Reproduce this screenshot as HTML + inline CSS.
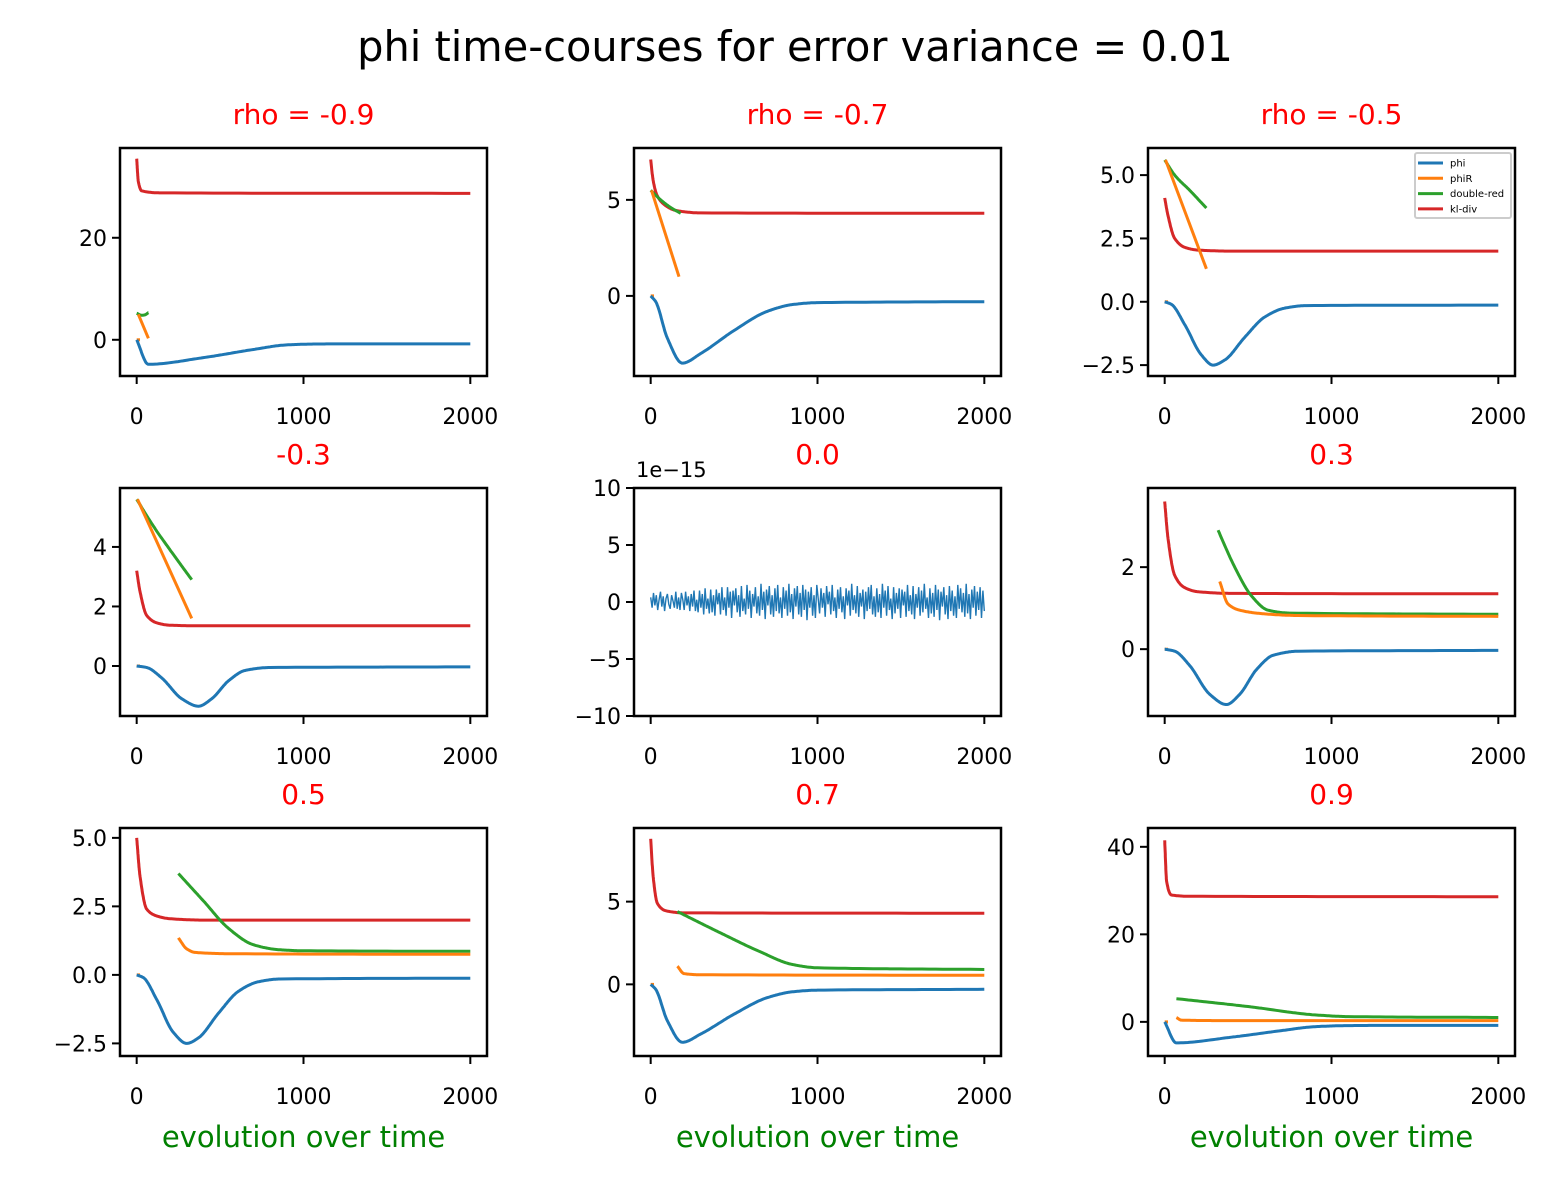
<!DOCTYPE html>
<html><head><meta charset="utf-8"><style>
body{margin:0;background:#fff}
svg text{font-family:"DejaVu Sans","Liberation Sans",sans-serif}
</style></head><body>
<svg id="fig" width="1560" height="1183" viewBox="0 0 1560 1183" xmlns="http://www.w3.org/2000/svg">
<rect width="1560" height="1183" fill="#fff"/>
<text x="795" y="61" font-size="41.5" text-anchor="middle">phi time-courses for error variance = 0.01</text>
</svg>
<script>
// ---- data (time, value) pairs ----
const panelTitles = ["rho = -0.9","rho = -0.7","rho = -0.5","-0.3","0.0","0.3","0.5","0.7","0.9"];
const yLimits = [[-7.1,37.6],[-4.17,7.7],[-2.93,6.07],[-1.68,5.98],[-10,10],[-1.63,3.93],[-2.96,5.36],[-4.33,9.45],[-7.8,44.3]];
const yTicks = [[0,20],[0,5],[-2.5,0,2.5,5],[0,2,4],[-10,-5,0,5,10],[0,2],[-2.5,0,2.5,5],[0,5],[0,20,40]];
const yTickLabels = [["0","20"],["0","5"],["\u22122.5","0.0","2.5","5.0"],["0","2","4"],["\u221210","\u22125","0","5","10"],["0","2"],["\u22122.5","0.0","2.5","5.0"],["0","5"],["0","20","40"]];
const xTicks = [0,1000,2000];
const xTickLabels = ["0","1000","2000"];
const phiSeries = [
 [[0,0],[70,-4.8],[400,-3.5],[700,-1.9],[900,-1.0],[1100,-0.82],[1400,-0.8],[2000,-0.8]],
 [[0,0],[30,-0.3],[100,-2.2],[190,-3.5],[300,-3.0],[500,-1.8],[700,-0.8],[850,-0.45],[1000,-0.35],[2000,-0.3]],
 [[0,0],[40,-0.1],[120,-0.9],[220,-2.1],[290,-2.5],[360,-2.3],[480,-1.4],[600,-0.6],[720,-0.25],[850,-0.15],[2000,-0.13]],
 [[0,0],[60,-0.05],[150,-0.4],[270,-1.1],[370,-1.35],[450,-1.1],[550,-0.5],[650,-0.15],[800,-0.05],[2000,-0.03]],
 null,
 [[0,0],[60,-0.05],[150,-0.4],[270,-1.1],[370,-1.35],[450,-1.1],[550,-0.5],[650,-0.15],[800,-0.05],[2000,-0.03]],
 [[0,0],[40,-0.1],[120,-0.9],[220,-2.1],[300,-2.5],[370,-2.3],[490,-1.4],[610,-0.6],[730,-0.25],[860,-0.15],[2000,-0.12]],
 [[0,0],[30,-0.3],[100,-2.2],[190,-3.5],[300,-3.0],[500,-1.8],[700,-0.8],[850,-0.45],[1000,-0.35],[2000,-0.3]],
 [[0,0],[70,-4.8],[400,-3.5],[700,-2.0],[900,-1.1],[1100,-0.85],[1400,-0.8],[2000,-0.8]]
];
const phiRSeries = [
 [[10,5],[70,0.3]],
 [[5,5.5],[170,1.0]],
 [[5,5.6],[250,1.3]],
 [[5,5.6],[330,1.6]],
 null,
 [[330,1.65],[380,1.1],[450,0.95],[600,0.86],[800,0.82],[2000,0.8]],
 [[250,1.35],[300,0.95],[350,0.82],[600,0.77],[2000,0.75]],
 [[160,1.1],[200,0.65],[300,0.58],[2000,0.55]],
 [[70,1.0],[100,0.4],[300,0.3],[2000,0.3]]
];
const doubleRedSeries = [
 [[0,5.2],[30,4.8],[50,4.9],[70,5.3]],
 [[0,5.5],[60,5.0],[120,4.6],[180,4.3]],
 [[0,5.6],[60,5.0],[150,4.4],[250,3.7]],
 [[0,5.6],[100,4.7],[200,3.9],[330,2.9]],
 null,
 [[320,2.9],[420,2.0],[520,1.3],[620,0.95],[750,0.88],[2000,0.85]],
 [[250,3.7],[400,2.7],[550,1.7],[700,1.1],[850,0.92],[1000,0.88],[2000,0.86]],
 [[160,4.4],[400,3.2],[650,2.0],[850,1.2],[1000,1.0],[2000,0.9]],
 [[70,5.3],[500,3.5],[900,1.6],[1100,1.2],[2000,1.0]]
];
const klDivSeries = [
 [[0,35.5],[10,31],[30,29.2],[150,28.8],[2000,28.7]],
 [[0,7.1],[15,6.0],[40,5.2],[90,4.7],[150,4.45],[300,4.32],[2000,4.3]],
 [[0,4.1],[20,3.4],[60,2.5],[120,2.15],[200,2.04],[400,2.0],[2000,2.0]],
 [[0,3.2],[20,2.5],[60,1.7],[120,1.45],[200,1.37],[400,1.35],[2000,1.35]],
 null,
 [[0,3.6],[20,2.7],[60,1.8],[120,1.5],[200,1.4],[400,1.36],[2000,1.35]],
 [[0,5.0],[20,3.6],[60,2.4],[120,2.15],[200,2.05],[400,2.0],[2000,2.0]],
 [[0,8.8],[15,6.5],[40,4.9],[90,4.45],[200,4.32],[2000,4.3]],
 [[0,41.5],[12,32],[40,29],[150,28.7],[2000,28.6]]
];
// noise values (x1e-15), evenly spaced from t=0 to t=2000
const noiseValues = [0.4,-0.5,0.8,-0.3,0.6,-0.7,0.2,0.9,-0.4,0.5,-0.8,0.3,0.7,-0.2,-0.6,0.6,0.1,-0.5,0.9,-0.6,0.4,-0.7,0.8,0.2,-0.7,0.9,-0.3,0.5,-0.8,0.7,
-0.4,1.0,-0.8,0.2,-0.9,1.0,-0.5,0.7,-1.1,1.2,-0.6,0.3,-1.0,1.1,-0.9,0.6,-1.2,1.1,-0.2,0.8,-1.1,1.3,-0.7,0.4,-1.2,1.3,-0.5,0.9,-1.4,1.0,
-0.3,1.2,-0.9,0.6,-1.3,1.4,-0.8,0.3,-1.1,1.5,-0.6,1.0,-1.4,0.7,-0.4,1.3,-1.0,0.5,-1.2,1.6,-0.7,0.9,-1.5,1.1,-0.3,1.4,-1.1,0.6,-1.3,1.2,
-0.8,1.5,-1.0,0.4,-1.4,1.3,-0.6,1.0,-1.2,1.6,-0.9,0.7,-1.5,1.2,-0.4,1.4,-1.1,0.8,-1.3,1.5,-0.7,1.1,-1.6,0.9,-0.5,1.3,-1.2,0.6,-1.4,1.5,
0.3,-1.0,1.2,-0.5,0.8,-1.3,1.4,-0.2,0.9,-1.1,1.5,-0.8,0.4,-1.4,1.1,-0.6,1.3,-0.9,0.5,-1.5,1.2,-0.3,1.0,-1.2,1.6,-0.7,0.6,-1.0,1.4,-1.3,
0.8,-0.4,1.1,-1.5,0.9,-0.8,1.3,-0.6,1.5,-1.1,0.5,-1.3,1.2,-0.9,0.7,-1.4,1.6,-0.5,1.0,-1.2,1.4,-0.7,0.3,-1.5,1.3,-1.0,0.8,-0.6,1.2,-1.4,
1.1,-0.3,0.9,-1.3,1.5,-0.8,0.6,-1.1,1.4,-1.5,0.7,-0.5,1.3,-1.2,1.0,-0.9,1.6,-0.6,0.4,-1.4,1.2,-1.0,0.8,-1.3,1.5,-0.7,1.1,-1.6,0.9,-0.4,
1.3,-1.1,0.6,-1.5,1.4,-0.8,1.0,-1.2,0.5,-1.4,1.5,-0.6,1.2,-0.9,0.8,-1.3,1.6,-1.0,0.7,-1.5,1.1,-0.5,1.4,-1.2,0.9,-0.7,1.3,-1.4,1.0,-0.8];

const NS="http://www.w3.org/2000/svg";
const svg=document.getElementById('fig');
const colors={phi:"#1f77b4",phiR:"#ff7f0e",dr:"#2ca02c",kl:"#d62728"};
function mk(tag,attrs,parent){const e=document.createElementNS(NS,tag);for(const k in attrs)e.setAttribute(k,attrs[k]);(parent||svg).appendChild(e);return e;}
const colX=[120,634,1148], rowY=[148,488,828], W=367, H=228;
// monotone cubic (Fritsch-Carlson) interpolation, evaluated in data space
function monotoneSample(data){
  const n=data.length,xs=data.map(d=>d[0]),ys=data.map(d=>d[1]);
  if(n<3)return data.slice();
  const dx=[],m=[];for(let i=0;i<n-1;i++){dx.push(xs[i+1]-xs[i]);m.push((ys[i+1]-ys[i])/dx[i]);}
  const t=[m[0]];
  for(let i=1;i<n-1;i++){ if(m[i-1]*m[i]<=0)t.push(0); else { const w1=2*dx[i]+dx[i-1],w2=dx[i]+2*dx[i-1]; t.push((w1+w2)/(w1/m[i-1]+w2/m[i])); } }
  t.push(m[n-2]);
  const out=[];
  for(let i=0;i<n-1;i++){
    const N=24;
    for(let k=0;k<N;k++){
      const s=k/N,h=dx[i];
      const h00=2*s*s*s-3*s*s+1,h10=s*s*s-2*s*s+s,h01=-2*s*s*s+3*s*s,h11=s*s*s-s*s;
      out.push([xs[i]+s*h, h00*ys[i]+h10*h*t[i]+h01*ys[i+1]+h11*h*t[i+1]]);
    }
  }
  out.push(data[n-1]);
  return out;
}
for(let i=0;i<9;i++){
  const r=Math.floor(i/3),c=i%3,x0=colX[c],y0=rowY[r];
  const [ymin,ymax]=yLimits[i];
  const sx=t=>x0+(t+100)/2200*W;
  const sy=v=>y0+H-(v-ymin)/(ymax-ymin)*H;
  const g=mk('g',{});
  
  
  const title=mk('text',{x:x0+W/2,y:y0-24,'font-size':28,'text-anchor':'middle',fill:'#ff0000'},g);
  title.textContent=panelTitles[i];
  
  
  const clip=mk('clipPath',{id:'c'+i},g);mk('rect',{x:x0,y:y0,width:W,height:H},clip);
  const plot=mk('g',{'clip-path':'url(#c'+i+')'},g);
  function line(data,col,name){
    if(!data)return;
    const pts=monotoneSample(data).map(d=>sx(d[0]).toFixed(1)+","+sy(d[1]).toFixed(1)).join(" ");
    const p=mk('polyline',{points:pts,fill:'none',stroke:col,'stroke-width':3,'stroke-linejoin':'round'},plot);
    
    
  }
  if(i===4){
    const pts=noiseValues.map((v,k)=>[sx(k*2000/(noiseValues.length-1)),sy(v)]);
    const p=mk('polyline',{points:pts.map(q=>q[0].toFixed(1)+","+q[1].toFixed(1)).join(" "),fill:'none',stroke:colors.phi,'stroke-width':1.4},plot);
    
    
    const sci=mk('text',{x:x0+2,y:y0-11,'font-size':21},g);sci.textContent="1e\u221215";
    
    
  } else {
    line(klDivSeries[i],colors.kl,'kl-div-line');
    line(doubleRedSeries[i],colors.dr,'double-red-line');
    line(phiRSeries[i],colors.phiR,'phiR-line');
    line([[0,0],[20,0]],colors.phiR,'phiR-start-line');
    line(phiSeries[i],colors.phi,'phi-line');
  }
  const box=mk('rect',{x:x0,y:y0,width:W,height:H,fill:'none',stroke:'#000','stroke-width':2.5},g);
  
  
  xTicks.forEach((t,k)=>{
    const X=sx(t);
    mk('line',{x1:X,x2:X,y1:y0+H,y2:y0+H+8,stroke:'#000','stroke-width':2},g);
    const tl=mk('text',{x:X,y:y0+H+48,'font-size':22,'text-anchor':'middle'},g);tl.textContent=xTickLabels[k];
    
    
  });
  yTicks[i].forEach((v,k)=>{
    const Y=sy(v);
    mk('line',{x1:x0-8,x2:x0,y1:Y,y2:Y,stroke:'#000','stroke-width':2},g);
    const tl=mk('text',{x:x0-13,y:Y+8,'font-size':22,'text-anchor':'end'},g);tl.textContent=yTickLabels[i][k];
    
    
  });
  if(r===2){
    const xl=mk('text',{x:x0+W/2,y:1147,'font-size':29,'text-anchor':'middle',fill:'#008000'},g);xl.textContent="evolution over time";
    
    
  }
}
// legend in panel 3
const lg=mk('g',{});


mk('rect',{x:1415,y:153,width:96,height:65,fill:'#fff',stroke:'#ccc','stroke-width':2,rx:2},lg);
[["phi",colors.phi],["phiR",colors.phiR],["double-red",colors.dr],["kl-div",colors.kl]].forEach((e,k)=>{
  const y=163+k*15.3;
  const en=mk('g',{},lg);
  
  
  mk('line',{x1:1418,x2:1443,y1:y,y2:y,stroke:e[1],'stroke-width':3},en);
  const t=mk('text',{x:1450,y:y+3.5,'font-size':10},en);t.textContent=e[0];
});
</script>
</body></html>
